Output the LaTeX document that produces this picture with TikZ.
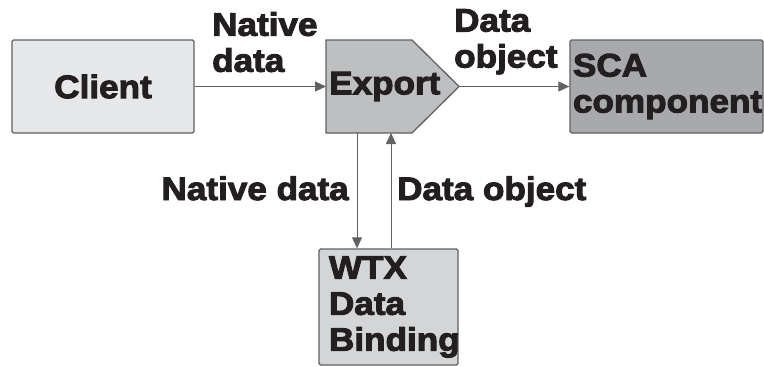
\documentclass[tikz,border=0pt]{standalone}
\usepackage{fontspec}
\usepackage{xcolor}
\usetikzlibrary{arrows.meta}
\newfontfamily\heavyfont{Liberation Sans Bold}[FakeStretch=1.08,FakeBold=3]
\definecolor{clientgray}{HTML}{E6E7E8}
\definecolor{exportgray}{HTML}{BEBFC1}
\definecolor{scagray}{HTML}{A7A9AC}
\definecolor{wtxgray}{HTML}{D4D5D6}
\definecolor{edgegray}{HTML}{606163}
\definecolor{inkgray}{HTML}{231F20}
\begin{document}
\begin{tikzpicture}[x=1pt,y=-1pt,
  font=\heavyfont\fontsize{32.5}{36}\selectfont,text=inkgray,
  box/.style={draw=edgegray,line width=1.3pt,rounded corners=1.5pt,inner sep=3pt},
  lbl/.style={inner sep=0pt,align=left},
  arr/.style={draw=edgegray,line width=0.9pt,-{Triangle[length=11pt,width=10pt]}}]
  \useasboundingbox (0,0) rectangle (764,367);
  \node[box,fill=clientgray,minimum width=182,minimum height=93] (client) at (103,86.5) {Client};
  \node[box,fill=scagray,minimum width=193,minimum height=93,text width=187,align=left] (sca) at (666.5,86.5) {SCA\\component};
  \node[box,fill=wtxgray,minimum width=139,minimum height=116,inner xsep=10pt,text width=119,align=left] (wtx) at (388.5,307) {WTX\\Data\\Binding};
  \filldraw[fill=exportgray,draw=edgegray,line width=1.3pt,line join=miter]
    (326,40) -- (412,40) -- (459,86.5) -- (412,133) -- (326,133) -- cycle;
  \coordinate (expw) at (326,86.5);
  \coordinate (expe) at (459,86.5);
  \coordinate (exps1) at (357,133);
  \coordinate (exps2) at (391,133);
  \node[lbl,anchor=west] (export) at (329,86.5) {Export};
  \draw[arr] (client.east) -- (expw);
  \draw[arr] (expe) -- (sca.west);
  \draw[arr] (exps1) -- (exps1 |- wtx.north);
  \draw[arr] (exps2 |- wtx.north) -- (exps2);
  \node[lbl,anchor=north west] (nativetop) at (212,12) {Native\\data};
  \node[lbl,anchor=north west] (objecttop) at (454,9) {Data\\object};
  \node[lbl,anchor=base east] (nativelow) at (349,200) {Native data};
  \node[lbl,anchor=base west] (objectlow) at (397,200) {Data object};
\end{tikzpicture}
\end{document}
